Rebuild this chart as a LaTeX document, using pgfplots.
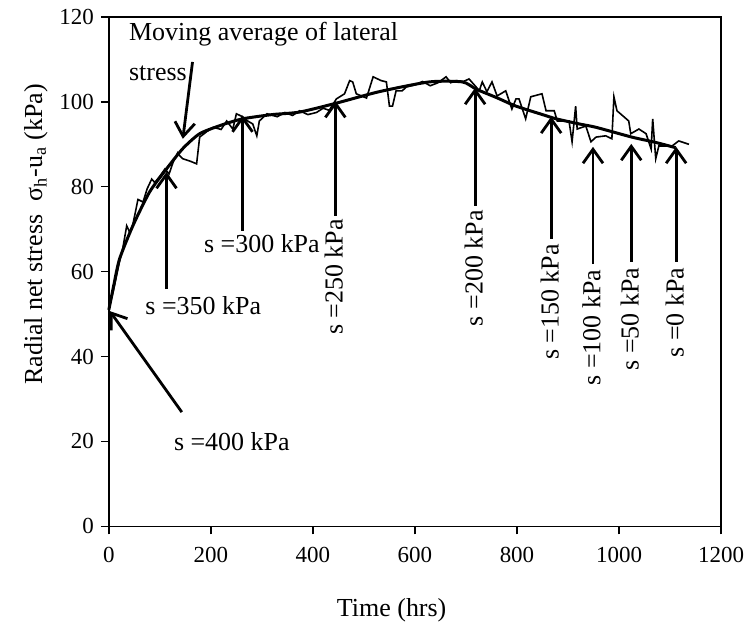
\documentclass[border=0pt]{standalone}
\usepackage{fontspec}
\setmainfont{Liberation Serif}
\usepackage{pgfplots}
\pgfplotsset{compat=1.18}
\usetikzlibrary{arrows.meta}
\tikzset{
  arr/.style={line width=1.4pt, -{Straight Barb[length=7pt,width=10pt,line width=1.4pt]}},
  ann/.style={font=\fontsize{13}{15}\selectfont, inner sep=1pt},
}

\begin{document}
\begin{tikzpicture}
\begin{axis}[
  scale only axis, width=306.5pt, height=255pt,
  xmin=0, xmax=1200, ymin=0, ymax=120,
  xtick={0,200,...,1200}, ytick={0,20,...,120},
  tick align=outside, xtick pos=bottom, ytick pos=left, major tick length=4pt,
  axis line style={line width=0.7pt},
  tick style={line width=0.7pt, black},
  /pgf/number format/assume math mode=true,
  /pgf/number format/1000 sep={},
  ticklabel style={font=\fontsize{11.5}{13}\selectfont},
  xticklabel style={yshift=-3pt},
  xlabel={Time (hrs)},
  ylabel={Radial net stress\ \ σ\textsubscript{h}-u\textsubscript{a} (kPa)},
  label style={font=\fontsize{13}{15}\selectfont},
  xlabel style={at={(axis description cs:0.462,0)}, anchor=center, yshift=-42pt},
  ylabel style={at={(axis description cs:-0.119,0.573)}, anchor=center},
  clip=false,
]
% measured lateral stress (noisy)
\addplot[black, line width=0.8pt] coordinates {
(0,46) (0,51) (8,55) (15,59) (22,63) (27,65.3) (35,70.8) (40,69.5) (45,70) (52,74) (57,77) (67,76.4) (75,79.5) (84,81.8) (90,81) (100,82.5) (110,84.2) (118,83) (126,85.8) (135,88) (139,87.3) (145,86.6) (160,86) (172,85.4) (178,91.7) (192,93) (205,94) (220,93.5) (231,95.5) (243,93.6) (250,97.2) (262,96.5) (272,95.5) (282,94.8) (290,92) (295,95.5) (310,97.2) (330,96.5) (345,97.5) (360,96.8) (374,97.9) (390,97.0) (407,97.5) (420,98.5) (432,98.0) (446,100.7) (462,101.9) (472,105) (478,104.7) (485,101.9) (505,100.9) (518,105.9) (534,105) (544,104.7) (550,99) (556,99) (563,102.6) (575,102.6) (583,103.5) (600,104) (615,104.8) (630,103.8) (645,104.5) (661,105.9) (670,104.5) (681,105) (695,104.8) (706,105.4) (720,103.5) (726,102.6) (732,104.7) (741,102.4) (751,104.7) (761,101.4) (778,102.6) (790,98.3) (798,100.7) (804,100.7) (817,96) (827,101.2) (849,101.9) (857,97.9) (873,97.9) (879,95.5) (902,95.5) (908,90.6) (915,99) (918,93.6) (935,94.3) (945,90.6) (955,91.7) (974,92) (986,91.3) (990,101.2) (996,97.9) (1019,95.5) (1023,92.5) (1039,93.6) (1053,92.5) (1063,88.9) (1066,96) (1072,86.6) (1078,89.6) (1104,89.6) (1117,90.8) (1137,90)
};
% moving average
\addplot[black, line width=1.5pt, smooth, tension=0.4] coordinates {
(0,51) (10,57) (21,63) (47,70.8) (80,78.8) (113,84.2) (145,89) (178,92.5) (220,94.5) (262,96) (320,97) (374,97.6) (446,99.7) (530,102.4) (628,104.7) (693,104.7) (720,103) (760,101) (798,99) (850,97) (877,96) (922,94.8) (955,94) (1025,91.7) (1070,90.5) (1111,89.2)
};
% annotations
\draw[arr] (axis cs:164,109.4) -- (axis cs:145,91.3);
\node[ann, anchor=base west] at (axis cs:35,114.4) {Moving average of lateral};
\node[ann, anchor=base west] at (axis cs:35,105) {stress};

\draw[arr] (axis cs:143,26.9) -- (axis cs:2,50.7);
\node[ann, anchor=west] at (axis cs:123,20) {s =400 kPa};

\draw[arr] (axis cs:113,55.9) -- (axis cs:113,83.5);
\node[ann, anchor=west] at (axis cs:67,51.9) {s =350 kPa};

\draw[arr] (axis cs:262,69.6) -- (axis cs:262,96.8);
\node[ann, anchor=west] at (axis cs:182,66.5) {s =300 kPa};

\draw[arr] (axis cs:444,73.2) -- (axis cs:444,100.2);
\node[ann, rotate=90, anchor=east] at (axis cs:441,72.9) {s =250 kPa};

\draw[arr] (axis cs:718,75.5) -- (axis cs:718,103.3);
\node[ann, rotate=90, anchor=east] at (axis cs:715,75) {s =200 kPa};

\draw[arr] (axis cs:867,67.7) -- (axis cs:867,96.5);
\node[ann, rotate=90, anchor=east] at (axis cs:864,67) {s =150 kPa};

\draw[arr] (axis cs:949,61.8) -- (axis cs:949,89.4);
\node[ann, rotate=90, anchor=east] at (axis cs:946,61) {s =100 kPa};

\draw[arr] (axis cs:1024,62.3) -- (axis cs:1024,90.1);
\node[ann, rotate=90, anchor=east] at (axis cs:1021,61.5) {s =50 kPa};

\draw[arr] (axis cs:1112,62.3) -- (axis cs:1112,89.4);
\node[ann, rotate=90, anchor=east] at (axis cs:1109,61.5) {s =0 kPa};
\end{axis}
\path ([shift={(-54.5pt,-52.5pt)}]current axis.south west) rectangle ([shift={(15.5pt,8.5pt)}]current axis.north east);
\end{tikzpicture}
\end{document}
